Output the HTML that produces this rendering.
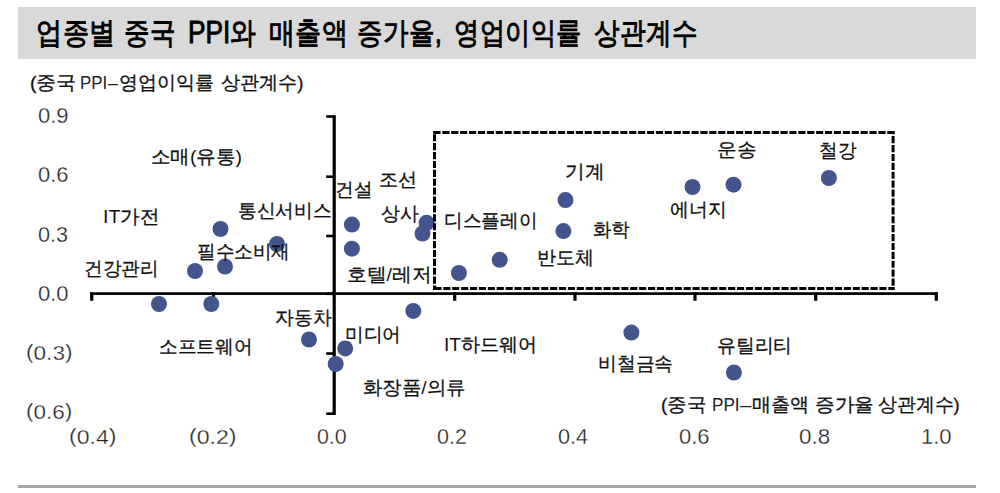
<!DOCTYPE html>
<html><head><meta charset="utf-8"><style>
html,body{margin:0;padding:0;background:#fff;}
body{width:1000px;height:493px;position:relative;overflow:hidden;font-family:"Liberation Sans",sans-serif;}
.t{position:absolute;white-space:pre;line-height:1;color:#111;transform-origin:0 0;-webkit-text-stroke:0.3px #111;}
#bar{position:absolute;left:18px;top:7px;width:958px;height:52px;background:#d9d9d9;}
#bot{position:absolute;left:18px;top:485px;width:958px;height:3px;background:#a6a6a6;}
svg{position:absolute;left:0;top:0;}
.t b{font-weight:normal;-webkit-text-stroke:0;}
.t i{font-style:normal;position:relative;top:1px;}
.t.n{-webkit-text-stroke:0;color:#222;}
</style></head><body>
<div id="bar"></div>
<div id="bot"></div>
<svg width="1000" height="493" viewBox="0 0 1000 493">
<rect x="332.60" y="115.3" width="3.2" height="299.7" fill="#000"/>
<rect x="326.2" y="115.20" width="8.00" height="2.6" fill="#000"/>
<rect x="326.2" y="175.40" width="8.00" height="2.6" fill="#000"/>
<rect x="326.2" y="234.70" width="8.00" height="2.6" fill="#000"/>
<rect x="326.2" y="292.50" width="8.00" height="2.6" fill="#000"/>
<rect x="326.2" y="352.20" width="8.00" height="2.6" fill="#000"/>
<rect x="326.2" y="412.40" width="8.00" height="2.6" fill="#000"/>
<rect x="90.2" y="292.25" width="847.8" height="2.7" fill="#000"/>
<rect x="90.10" y="292.25" width="3.2" height="8.55" fill="#000"/>
<rect x="211.90" y="292.25" width="3.2" height="8.55" fill="#000"/>
<rect x="453.10" y="292.25" width="3.2" height="8.55" fill="#000"/>
<rect x="573.40" y="292.25" width="3.2" height="8.55" fill="#000"/>
<rect x="693.40" y="292.25" width="3.2" height="8.55" fill="#000"/>
<rect x="814.10" y="292.25" width="3.2" height="8.55" fill="#000"/>
<rect x="934.70" y="292.25" width="3.2" height="8.55" fill="#000"/>
<circle cx="220.5" cy="229" r="8" fill="#44548c"/>
<circle cx="277" cy="244" r="8" fill="#44548c"/>
<circle cx="195" cy="271" r="8" fill="#44548c"/>
<circle cx="225" cy="266.5" r="8" fill="#44548c"/>
<circle cx="159" cy="304" r="8" fill="#44548c"/>
<circle cx="211.3" cy="304" r="8" fill="#44548c"/>
<circle cx="351.9" cy="224.6" r="8" fill="#44548c"/>
<circle cx="351.9" cy="248.7" r="8" fill="#44548c"/>
<circle cx="426.6" cy="222.8" r="8" fill="#44548c"/>
<circle cx="422.5" cy="233.5" r="8" fill="#44548c"/>
<circle cx="458.9" cy="273" r="8" fill="#44548c"/>
<circle cx="499.7" cy="259.8" r="8" fill="#44548c"/>
<circle cx="565.5" cy="200.1" r="8" fill="#44548c"/>
<circle cx="563.4" cy="231.1" r="8" fill="#44548c"/>
<circle cx="692.5" cy="187" r="8" fill="#44548c"/>
<circle cx="733.5" cy="184.7" r="8" fill="#44548c"/>
<circle cx="828.9" cy="178" r="8" fill="#44548c"/>
<circle cx="309" cy="339.5" r="8" fill="#44548c"/>
<circle cx="345.2" cy="348.4" r="8" fill="#44548c"/>
<circle cx="335.7" cy="364" r="8" fill="#44548c"/>
<circle cx="413.3" cy="310.9" r="8" fill="#44548c"/>
<circle cx="631.4" cy="332.6" r="8" fill="#44548c"/>
<circle cx="733.9" cy="372.5" r="8" fill="#44548c"/>
<line x1="433.0" y1="132.6" x2="894.6" y2="132.6" stroke="#000" stroke-width="3" stroke-dasharray="7.15 1.75" stroke-dashoffset="8.50"/>
<line x1="893.1" y1="131.1" x2="893.1" y2="290.1" stroke="#000" stroke-width="3" stroke-dasharray="7.15 1.75" stroke-dashoffset="3.90"/>
<line x1="433.0" y1="288.6" x2="894.6" y2="288.6" stroke="#000" stroke-width="3" stroke-dasharray="7.15 1.75" stroke-dashoffset="7.50"/>
<line x1="434.5" y1="131.1" x2="434.5" y2="290.1" stroke="#000" stroke-width="3" stroke-dasharray="7.15 1.75" stroke-dashoffset="5.80"/>
</svg>
<span class="t" style="left:36.01px;top:17.63px;font-size:29px;transform:scale(0.9163,1.05);-webkit-text-stroke:0.9px #000;color:#000">업종별</span>
<span class="t" style="left:123.65px;top:17.63px;font-size:29px;transform:scale(0.8947,1.05);-webkit-text-stroke:0.9px #000;color:#000">중국</span>
<span class="t" style="left:188.43px;top:17.63px;font-size:29px;transform:scale(0.9048,1.05);-webkit-text-stroke:0.9px #000;color:#000">PPI와</span>
<span class="t" style="left:268.68px;top:17.63px;font-size:29px;transform:scale(0.9113,1.05);-webkit-text-stroke:0.9px #000;color:#000">매출액</span>
<span class="t" style="left:357.06px;top:17.63px;font-size:29px;transform:scale(0.8938,1.05);-webkit-text-stroke:0.9px #000;color:#000">증가율,</span>
<span class="t" style="left:454.08px;top:17.63px;font-size:29px;transform:scale(0.8816,1.05);-webkit-text-stroke:0.9px #000;color:#000">영업이익률</span>
<span class="t" style="left:593.90px;top:17.63px;font-size:29px;transform:scale(0.8970,1.05);-webkit-text-stroke:0.9px #000;color:#000">상관계수</span>
<span class="t" style="left:29.63px;top:74.11px;font-size:18.5px;transform:scale(1.0491,1)">(중국</span>
<span class="t n" style="left:80.43px;top:74.11px;font-size:18.5px;transform:scale(0.9133,1)">PPI</span>
<span class="t n" style="left:108.30px;top:74.11px;font-size:18.5px;transform:scale(0.9631,1)">–</span>
<span class="t" style="left:118.81px;top:74.11px;font-size:18.5px;transform:scale(0.9986,1)">영업이익률</span>
<span class="t" style="left:220.77px;top:74.11px;font-size:18.5px;transform:scale(1.0043,1)">상관계수)</span>
<span class="t" style="left:661.25px;top:395.89px;font-size:18.5px;transform:scale(1.0221,1)">(중국</span>
<span class="t n" style="left:712.12px;top:395.89px;font-size:18.5px;transform:scale(0.9245,1)">PPI</span>
<span class="t n" style="left:739.80px;top:395.89px;font-size:18.5px;transform:scale(1.1007,1)">–</span>
<span class="t" style="left:751.67px;top:395.89px;font-size:18.5px;transform:scale(1.0039,1)">매출액</span>
<span class="t" style="left:814.77px;top:395.89px;font-size:18.5px;transform:scale(1.0318,1)">증가율</span>
<span class="t" style="left:877.68px;top:395.89px;font-size:18.5px;transform:scale(0.9928,1)">상관계수)</span>
<span class="t" style="left:150.54px;top:146.88px;font-size:19px;transform:scale(1.0259,1.0)">소매<b>(</b>유통<b>)</b></span>
<span class="t" style="left:103.45px;top:206.60px;font-size:19px;transform:scale(1.0271,1.0)"><b>IT</b>가전</span>
<span class="t" style="left:238.00px;top:201.15px;font-size:19px;transform:scale(0.9832,1.0)">통신서비스</span>
<span class="t" style="left:197.00px;top:241.60px;font-size:19px;transform:scale(0.9792,1.0)">필수소비재</span>
<span class="t" style="left:83.84px;top:259.45px;font-size:19px;transform:scale(0.9782,1.0)">건강관리</span>
<span class="t" style="left:159.10px;top:336.55px;font-size:19px;transform:scale(0.9843,1.0)">소프트웨어</span>
<span class="t" style="left:274.96px;top:307.80px;font-size:19px;transform:scale(0.9879,1.0)">자동차</span>
<span class="t" style="left:344.93px;top:324.50px;font-size:19px;transform:scale(0.9837,1.0)">미디어</span>
<span class="t" style="left:362.63px;top:377.65px;font-size:19px;transform:scale(1.0220,1.0)">화장품<b>/</b>의류</span>
<span class="t" style="left:334.84px;top:180.14px;font-size:19px;transform:scale(0.9815,1.0)">건설</span>
<span class="t" style="left:379.47px;top:169.59px;font-size:19px;transform:scale(1.0029,1.0)">조선</span>
<span class="t" style="left:381.36px;top:204.35px;font-size:19px;transform:scale(0.9897,1.0)">상사</span>
<span class="t" style="left:346.72px;top:265.25px;font-size:19px;transform:scale(1.0370,1.0)">호텔<b>/</b>레저</span>
<span class="t" style="left:443.64px;top:211.30px;font-size:19px;transform:scale(0.9806,1.0)">디스플레이</span>
<span class="t" style="left:564.52px;top:161.95px;font-size:19px;transform:scale(1.0378,1.0)">기계</span>
<span class="t" style="left:592.78px;top:219.65px;font-size:19px;transform:scale(0.9733,1.0)">화학</span>
<span class="t" style="left:537.30px;top:247.95px;font-size:19px;transform:scale(1.0014,1.0)">반도체</span>
<span class="t" style="left:669.56px;top:200.40px;font-size:19px;transform:scale(0.9906,1.0)">에너지</span>
<span class="t" style="left:716.72px;top:139.95px;font-size:19px;transform:scale(1.0356,1.0)">운송</span>
<span class="t" style="left:819.00px;top:140.85px;font-size:19px;transform:scale(0.9806,1.0)">철강</span>
<span class="t" style="left:444.10px;top:334.55px;font-size:19px;transform:scale(1.0017,1.0)"><b>IT</b>하드웨어</span>
<span class="t" style="left:598.12px;top:353.55px;font-size:19px;transform:scale(0.9907,1.0)">비철금속</span>
<span class="t" style="left:717.19px;top:335.75px;font-size:19px;transform:scale(0.9871,1.0)">유틸리티</span>
<span class="t" style="left:38.05px;top:104.80px;font-size:21.7px;transform:scale(1.0156,1.0);color:#222;-webkit-text-stroke:0.3px #fff">0.9</span>
<span class="t" style="left:38.05px;top:164.10px;font-size:21.7px;transform:scale(1.0086,1.0);color:#222;-webkit-text-stroke:0.3px #fff">0.6</span>
<span class="t" style="left:38.06px;top:223.85px;font-size:21.7px;transform:scale(0.9982,1.0);color:#222;-webkit-text-stroke:0.3px #fff">0.3</span>
<span class="t" style="left:38.05px;top:282.60px;font-size:21.7px;transform:scale(1.0156,1.0);color:#222;-webkit-text-stroke:0.3px #fff">0.0</span>
<span class="t" style="left:25.77px;top:341.32px;font-size:21px;transform:scale(1.0769,1.0);color:#222;-webkit-text-stroke:0.3px #fff">(<i>0.3</i>)</span>
<span class="t" style="left:26.08px;top:400.38px;font-size:21px;transform:scale(1.0696,1.0);color:#222;-webkit-text-stroke:0.3px #fff">(<i>0.6</i>)</span>
<span class="t" style="left:68.95px;top:425.43px;font-size:21px;transform:scale(1.0989,1.0);color:#222;-webkit-text-stroke:0.3px #fff">(<i>0.4</i>)</span>
<span class="t" style="left:189.44px;top:425.43px;font-size:21px;transform:scale(1.1013,1.0);color:#222;-webkit-text-stroke:0.3px #fff">(<i>0.2</i>)</span>
<span class="t" style="left:317.07px;top:425.50px;font-size:21.7px;transform:scale(0.9843,1.0);color:#222;-webkit-text-stroke:0.3px #fff">0.0</span>
<span class="t" style="left:437.36px;top:425.50px;font-size:21.7px;transform:scale(0.9912,1.0);color:#222;-webkit-text-stroke:0.3px #fff">0.2</span>
<span class="t" style="left:558.16px;top:425.50px;font-size:21.7px;transform:scale(1.0002,1.0);color:#222;-webkit-text-stroke:0.3px #fff">0.4</span>
<span class="t" style="left:679.15px;top:425.50px;font-size:21.7px;transform:scale(1.0156,1.0);color:#222;-webkit-text-stroke:0.3px #fff">0.6</span>
<span class="t" style="left:799.44px;top:425.50px;font-size:21.7px;transform:scale(1.0330,1.0);color:#222;-webkit-text-stroke:0.3px #fff">0.8</span>
<span class="t" style="left:921.15px;top:425.50px;font-size:21.7px;transform:scale(1.0156,1.0);color:#222;-webkit-text-stroke:0.3px #fff">1.0</span>
</body></html>
